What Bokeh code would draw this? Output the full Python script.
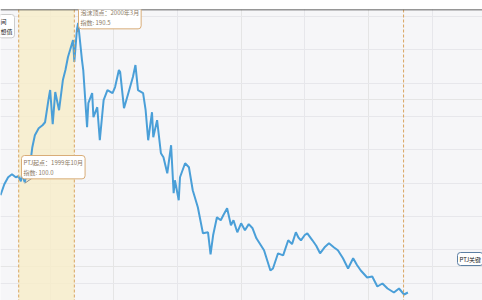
from bokeh.plotting import figure
from bokeh.models import BoxAnnotation, Span, Label, Arrow, FixedTicker, Grid
from bokeh.embed import file_html
from bokeh.resources import INLINE

# decimal years and index values (1999-10 = 100)
years = [1999.61, 1999.64, 1999.67, 1999.70, 1999.73, 1999.75, 1999.77, 1999.78, 1999.80, 1999.81,
         1999.84, 1999.86, 1999.88, 1999.91, 1999.94, 1999.96, 1999.99, 2000.00, 2000.02, 2000.04,
         2000.07, 2000.10, 2000.12, 2000.14, 2000.18, 2000.19, 2000.21, 2000.22, 2000.25, 2000.26,
         2000.29, 2000.30, 2000.33, 2000.34, 2000.37, 2000.39, 2000.42, 2000.45, 2000.49, 2000.51,
         2000.54, 2000.55, 2000.58, 2000.61, 2000.65, 2000.67, 2000.69, 2000.73, 2000.75, 2000.77,
         2000.80, 2000.81, 2000.84, 2000.87, 2000.89, 2000.92, 2000.95, 2000.97, 2000.98, 2001.01,
         2001.02, 2001.06, 2001.09, 2001.12, 2001.16, 2001.18, 2001.20, 2001.24, 2001.26, 2001.28,
         2001.31, 2001.34, 2001.36, 2001.39, 2001.42, 2001.44, 2001.47, 2001.50, 2001.53, 2001.56,
         2001.59, 2001.62, 2001.64, 2001.68, 2001.73, 2001.75, 2001.79, 2001.83, 2001.87, 2001.90,
         2001.93, 2001.95, 2001.97, 2002.00, 2002.02, 2002.06, 2002.09, 2002.12, 2002.16, 2002.19,
         2002.23, 2002.26, 2002.30, 2002.34, 2002.38, 2002.41, 2002.44, 2002.49, 2002.53, 2002.57,
         2002.61, 2002.65, 2002.70, 2002.74, 2002.78, 2002.81]
index_vals = [92.8, 99.4, 103.6, 105.4, 103.6, 104.2, 101.2, 105.4, 100.6, 103.6,
              109.6, 121.6, 128.8, 133.0, 134.8, 136.6, 151.6, 155.9, 135.4, 154.7,
              143.8, 161.9, 167.9, 175.7, 185.9, 172.7, 191.9, 196.1, 173.9, 167.9,
              133.6, 148.0, 154.1, 139.6, 145.6, 125.8, 149.8, 155.9, 154.1, 157.7,
              167.9, 166.7, 145.0, 152.9, 163.7, 170.9, 155.9, 154.1, 143.8, 125.8,
              142.6, 127.6, 137.8, 118.0, 115.6, 106.0, 122.8, 94.0, 101.8, 89.8,
              103.6, 112.0, 109.6, 95.8, 85.6, 77.8, 70.0, 70.6, 57.4, 68.8,
              79.6, 77.8, 80.8, 85.0, 74.8, 77.8, 70.6, 76.0, 71.8, 75.5,
              73.0, 67.0, 64.6, 59.8, 47.7, 48.9, 58.0, 56.8, 65.8, 63.5,
              70.6, 67.5, 65.8, 69.0, 70.0, 65.8, 62.5, 58.0, 62.0, 64.0,
              61.5, 59.8, 55.0, 48.9, 55.0, 51.0, 47.7, 43.5, 44.1, 38.1,
              39.9, 36.9, 34.5, 36.9, 33.3, 34.5]

x_grid_ticks = [2000, 2001, 2002, 2003]
y_grid_ticks = [40, 60, 80, 100, 120, 140, 160, 180, 200]

band_start, band_end = 1999.753, 2000.19     # 1999-10 .. 2000-03
bottom_mark = 2002.776                        # 2002-10
start_point = (1999.80, 100.0)
peak_point = (2000.21, 190.5)

label_start = "PTJ起点：1999年10月\n指数: 100.0"
label_peak = "泡沫顶点：2000年3月\n指数: 190.5"
label_key = "PTJ关键"
label_legend = "间\n想值"

X0, X1 = 1999.61, 2003.396
Y0, Y1 = 29.7, 204.2

p = figure(width=482, height=300, x_range=(X0, X1), y_range=(Y0, Y1),
           output_backend="svg", toolbar_location=None,
           x_axis_location=None, y_axis_location=None,
           min_border=0, min_border_top=9,
           background_fill_color="#f6f6f8", border_fill_color="white",
           outline_line_color=None)

p.add_layout(Grid(dimension=0, ticker=FixedTicker(ticks=x_grid_ticks),
                  grid_line_color="#e7e7eb", grid_line_width=1))
p.add_layout(Grid(dimension=1, ticker=FixedTicker(ticks=y_grid_ticks),
                  grid_line_color="#e7e7eb", grid_line_width=1))

p.add_layout(BoxAnnotation(left=band_start, right=band_end, fill_color="#f8eec8",
                           fill_alpha=0.8, line_color=None, level="underlay"))

for loc in [band_start, band_end, bottom_mark]:
    p.add_layout(Span(location=loc, dimension="height", line_color="#d9a560",
                      line_dash="3 2", line_width=1))

p.add_layout(Span(location=Y1, dimension="width", line_color="#333333", line_width=1.5))

p.line(years, index_vals, line_color="#4a9fd8", line_width=2)

font = "Noto Sans CJK SC"

# connectors
p.add_layout(Arrow(end=None, start=None, x_start=start_point[0], y_start=start_point[1],
                   start_units="data", x_end=37, y_end=126, end_units="screen",
                   line_color="#8a8a8a", line_width=1))
p.add_layout(Arrow(end=None, start=None, x_start=peak_point[0], y_start=peak_point[1],
                   start_units="data", x_end=81, y_end=278, end_units="screen",
                   line_color="#8a8a8a", line_width=1))

common = dict(x_units="screen", y_units="screen", text_font=font, text_font_size="6px",
              text_align="left", text_baseline="top", text_line_height=1.15,
              background_fill_color="white", background_fill_alpha=1.0,
              border_line_width=1, padding=2, border_radius=3)

p.add_layout(Label(x=21, y=145, text=label_start, text_color="#8c7b66",
                   border_line_color="#d9ad78", **common))
p.add_layout(Label(x=78, y=295, text=label_peak, text_color="#8c7b66",
                   border_line_color="#d9ad78", **common))
p.add_layout(Label(x=457, y=48, text=label_key, text_color="#222222",
                   border_line_color="#5c7fa3", **common))
p.add_layout(Label(x=-2, y=286, text=label_legend, text_color="#222222",
                   border_line_color="#cccccc", **common))

open("out.html", "w").write(file_html(p, INLINE))
